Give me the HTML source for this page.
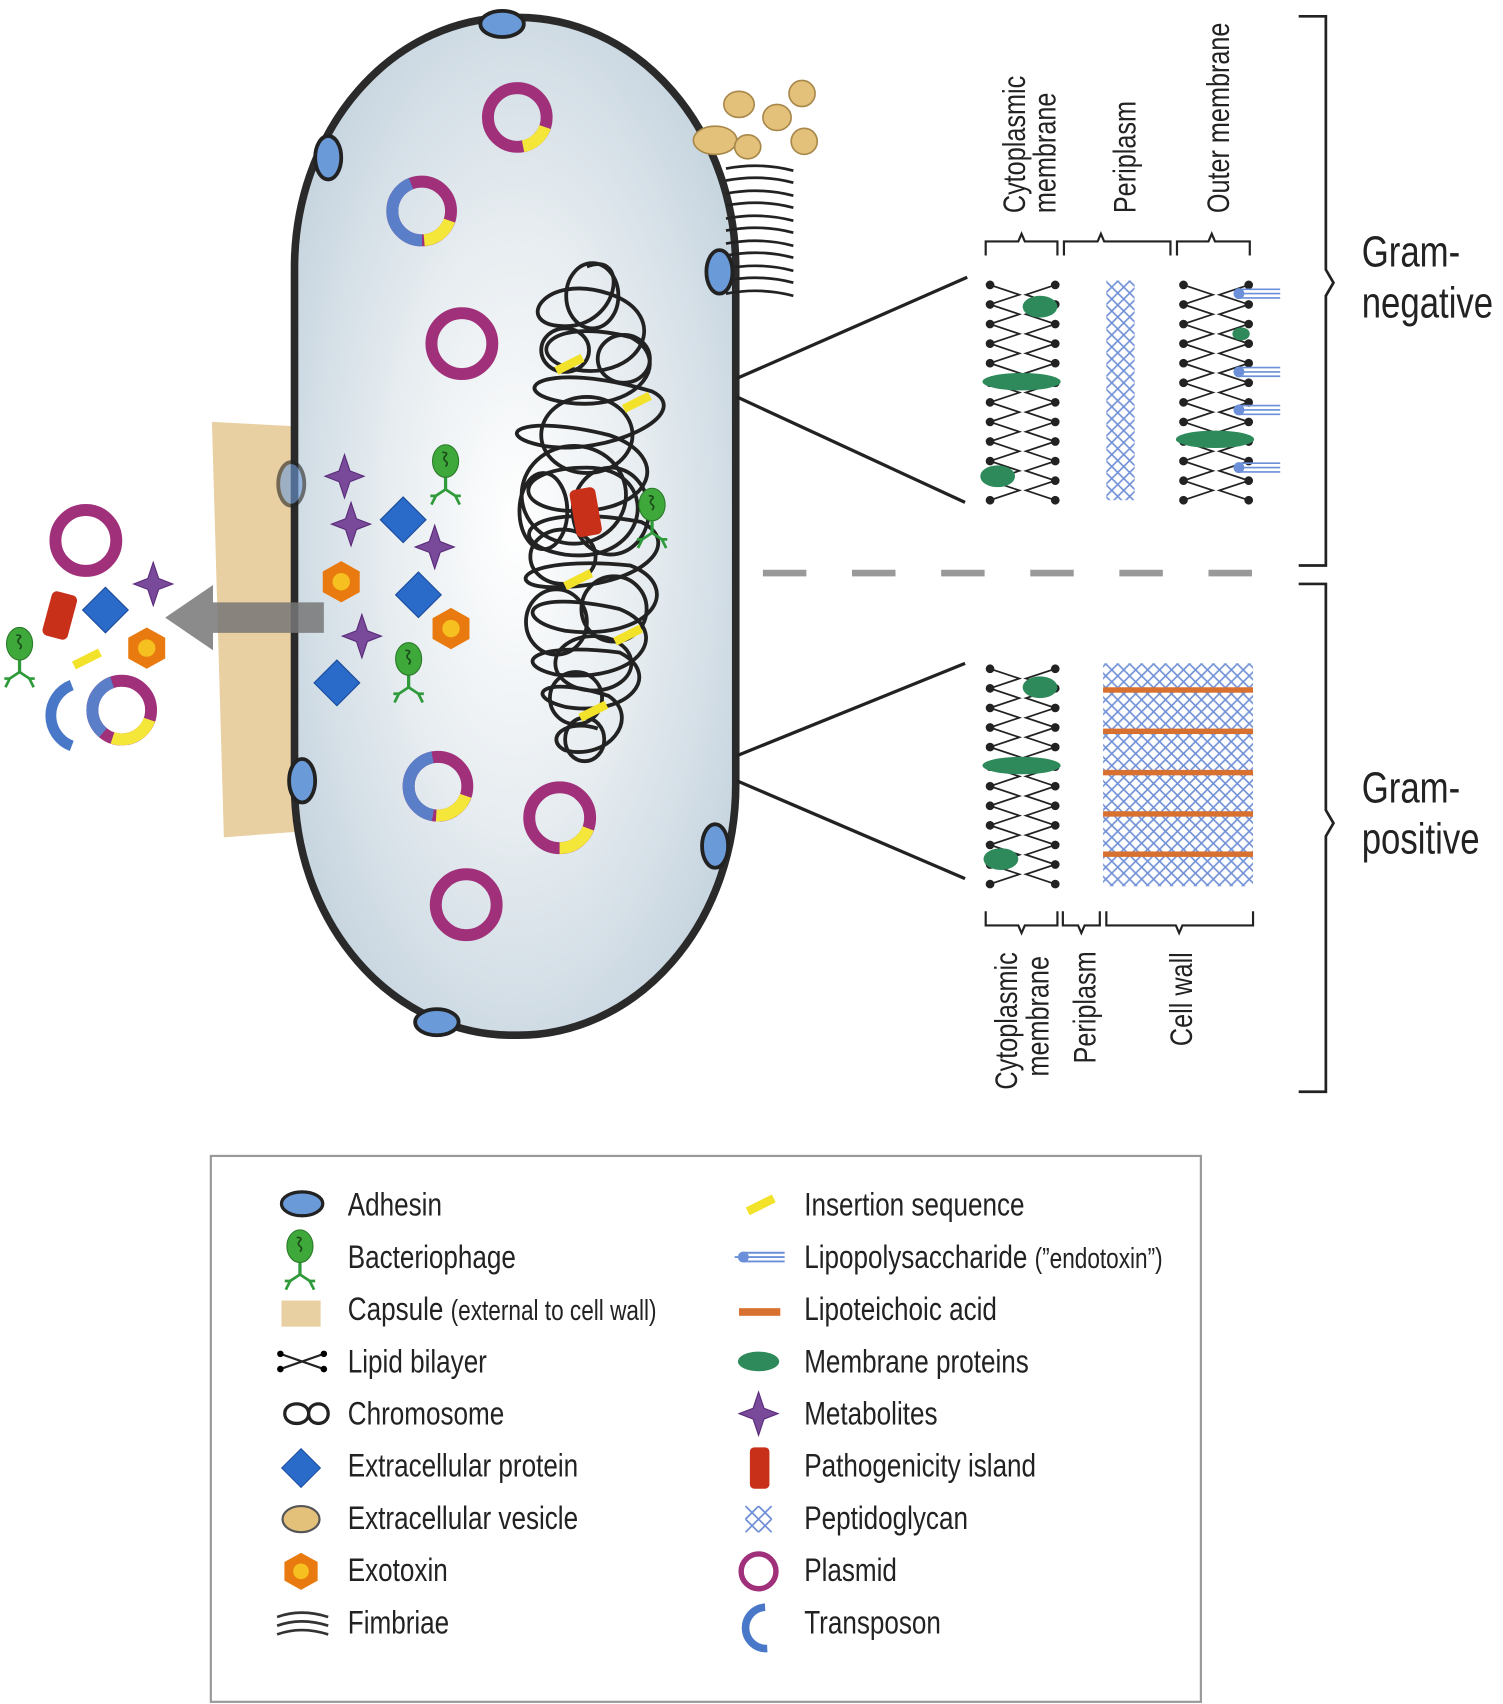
<!DOCTYPE html>
<html><head><meta charset="utf-8"><style>
html,body{margin:0;padding:0;background:#fff}
svg{display:block}
text{font-family:"Liberation Sans",sans-serif;fill:#222}
</style></head><body>
<svg width="1503" height="1704" viewBox="0 0 1383 1567" preserveAspectRatio="none" xmlns="http://www.w3.org/2000/svg">
<defs>
<radialGradient id="cg" cx="0.5" cy="0.5" r="0.6">
<stop offset="0" stop-color="#ffffff"/><stop offset="0.5" stop-color="#e6ecf0"/><stop offset="1" stop-color="#c4d3de"/>
</radialGradient>
<pattern id="pg" width="11" height="11" patternUnits="userSpaceOnUse">
<path d="M0 0L11 11M11 0L0 11" stroke="#6f8fd6" stroke-width="1.5"/>
</pattern>
<g id="phage">
<line x1="0" y1="10" x2="0" y2="26" stroke="#2e9a3a" stroke-width="3"/>
<path d="M0 26L-9 32L-13 40M0 26L9 32L13 40M-9 32L-14 32M9 32L14 32" stroke="#2e9a3a" stroke-width="2.5" fill="none"/>
<ellipse cx="0" cy="0" rx="12" ry="15" fill="#3ea83a" stroke="#2a7a2a" stroke-width="1"/>
<path d="M-3 -8q6 0 3 3t0 5t0 5" stroke="#1a4a1a" stroke-width="1.5" fill="none"/>
</g>
<g id="star"><path d="M0 -20L5 -5L18 0L5 5L0 20L-5 5L-18 0L-5 -5Z" fill="#7a4a9a" stroke="#5a2a7a" stroke-width="1"/></g>
<g id="dia"><path d="M0 -21L21 0L0 21L-21 0Z" fill="#2a6ac8" stroke="#1a4a9a" stroke-width="1"/></g>
<g id="hex"><path d="M0 -19L17 -9.5L17 9.5L0 19L-17 9.5L-17 -9.5Z" fill="#e87a10"/><circle r="8" fill="#f5c020"/></g>
<g id="is"><path d="M-12 4Q0 -2 12 -8" stroke="#f2e22a" stroke-width="8" fill="none"/></g>
<g id="adh"><ellipse rx="20" ry="12" fill="#6b9ad8" stroke="#222" stroke-width="3.5"/></g>
<g id="bl">
<polyline fill="none" stroke="#222" stroke-width="1.6" points="0,0 27,9 0,18 27,27 0,36 27,45 0,54 27,63 0,72 27,81 0,90 27,99 0,108 27,117 0,126 27,135 0,144 27,153 0,162 27,171 0,180 27,189 0,198"/>
<polyline fill="none" stroke="#222" stroke-width="1.6" points="60,0 33,9 60,18 33,27 60,36 33,45 60,54 33,63 60,72 33,81 60,90 33,99 60,108 33,117 60,126 33,135 60,144 33,153 60,162 33,171 60,180 33,189 60,198"/>
<line x1="0" y1="0" x2="0" y2="200" stroke="#222" stroke-width="8" stroke-linecap="round" stroke-dasharray="0 18"/>
<line x1="60" y1="0" x2="60" y2="200" stroke="#222" stroke-width="8" stroke-linecap="round" stroke-dasharray="0 18"/>
</g>
<g id="lps"><circle cx="0" cy="0" r="5" fill="#6b8fd8"/><path d="M0 -4H38M0 0H38M0 4H38" stroke="#6b8fd8" stroke-width="1.5"/></g>
</defs>

<!-- capsule -->
<path d="M195 388L272 392L272 765L206 770Z" fill="#e9d0a2"/>
<!-- cell -->
<rect x="271" y="16" width="406" height="936" rx="200" ry="230" fill="url(#cg)" stroke="#2a2a2a" stroke-width="7"/>
<!-- arrow -->
<path d="M298 554L196 554L196 538L152 568L196 598L196 582L298 582Z" fill="#777" opacity="0.85"/>

<!-- fimbriae -->
<g stroke="#222" stroke-width="2.5" fill="none">
<path d="M668 155Q700 149 730 157"/><path d="M668 166Q700 160 730 168"/><path d="M668 178Q700 172 730 180"/>
<path d="M668 189Q700 183 730 191"/><path d="M668 201Q700 195 730 203"/><path d="M668 212Q700 206 730 214"/>
<path d="M668 224Q700 218 730 226"/><path d="M668 235Q700 229 730 237"/><path d="M668 247Q700 241 730 249"/>
<path d="M668 258Q700 252 730 260"/><path d="M668 270Q700 264 730 272"/>
</g>
<!-- vesicles -->
<g fill="#e3c17a" stroke="#a8884a" stroke-width="1.5">
<ellipse cx="658" cy="129" rx="20" ry="13"/><ellipse cx="680" cy="96" rx="14" ry="12"/><ellipse cx="715" cy="108" rx="13" ry="12"/>
<ellipse cx="738" cy="86" rx="12" ry="12"/><ellipse cx="688" cy="135" rx="12" ry="11"/><ellipse cx="740" cy="130" rx="12" ry="12"/>
</g>

<!-- adhesins -->
<use href="#adh" x="462" y="22"/>
<g transform="translate(302,145) rotate(90)"><use href="#adh"/></g>
<g transform="translate(662,250) rotate(90)"><use href="#adh"/></g>
<g transform="translate(268,445) rotate(90)"><use href="#adh" opacity="0.6"/></g>
<g transform="translate(278,718) rotate(90)"><use href="#adh"/></g>
<g transform="translate(658,778) rotate(90)"><use href="#adh"/></g>
<use href="#adh" x="402" y="940"/>

<!-- chromosome -->
<g stroke="#222" stroke-width="3.5" fill="none">
<path d="M540 245C580 230 570 300 520 300C470 300 500 250 560 270C620 290 590 350 530 340C480 330 500 290 580 310C620 330 590 380 520 370C460 360 500 330 600 360C640 380 560 420 500 410C450 400 480 380 560 400C620 420 600 470 530 470C470 470 470 430 540 430C610 430 600 520 520 510C460 500 480 460 590 480C630 500 590 540 510 540C460 540 480 510 580 520C630 540 600 590 520 580C470 570 480 540 570 560C620 580 590 630 510 620C470 610 490 590 570 600C610 620 580 660 520 650C480 640 500 620 560 640C590 660 560 700 520 690C500 680 520 660 550 670"/>
<ellipse cx="545" cy="272" rx="24" ry="30"/><ellipse cx="520" cy="322" rx="22" ry="20"/><ellipse cx="574" cy="330" rx="24" ry="22"/>
<ellipse cx="540" cy="400" rx="42" ry="35"/><ellipse cx="528" cy="455" rx="48" ry="45"/><ellipse cx="562" cy="470" rx="35" ry="40"/>
<ellipse cx="518" cy="512" rx="30" ry="25"/><ellipse cx="565" cy="560" rx="30" ry="30"/><ellipse cx="512" cy="572" rx="28" ry="30"/>
<ellipse cx="546" cy="610" rx="35" ry="25"/><ellipse cx="530" cy="642" rx="24" ry="24"/><ellipse cx="500" cy="470" rx="22" ry="35"/>
<ellipse cx="538" cy="680" rx="18" ry="20"/>
</g>
<rect x="527" y="449" width="24" height="44" rx="5" fill="#c8301a" transform="rotate(-10 539 471)"/>
<use href="#is" x="524" y="337"/><use href="#is" x="586" y="372"/><use href="#is" x="532" y="535"/>
<use href="#is" x="578" y="586"/><use href="#is" x="546" y="656"/>
<use href="#phage" x="600" y="464"/>

<!-- plasmids -->
<g fill="none" stroke-width="11">
<circle cx="476" cy="108" r="27" stroke="#a0307a"/>
<circle cx="476" cy="108" r="27" stroke="#f5e63a" stroke-dasharray="28 200" stroke-dashoffset="-9"/>
<circle cx="388" cy="194" r="27" stroke="#a0307a"/>
<circle cx="388" cy="194" r="27" stroke="#5a7fc8" stroke-dasharray="75 200" stroke-dashoffset="-42"/>
<circle cx="388" cy="194" r="27" stroke="#f5e63a" stroke-dasharray="31 200" stroke-dashoffset="-9"/>
<circle cx="425" cy="316" r="28" stroke="#a0307a"/>
<circle cx="79" cy="497" r="28" stroke="#a0307a"/>
<circle cx="403" cy="723" r="27" stroke="#a0307a"/>
<circle cx="403" cy="723" r="27" stroke="#5a7fc8" stroke-dasharray="75 200" stroke-dashoffset="-47"/>
<circle cx="403" cy="723" r="27" stroke="#f5e63a" stroke-dasharray="35 200" stroke-dashoffset="-9"/>
<circle cx="515" cy="752" r="28" stroke="#a0307a"/>
<circle cx="515" cy="752" r="28" stroke="#f5e63a" stroke-dasharray="34 200" stroke-dashoffset="-10"/>
<circle cx="429" cy="832" r="28" stroke="#a0307a"/>
<circle cx="112" cy="653" r="27" stroke="#a0307a"/>
<circle cx="112" cy="653" r="27" stroke="#5a7fc8" stroke-dasharray="57 200" stroke-dashoffset="-61"/>
<circle cx="112" cy="653" r="27" stroke="#f5e63a" stroke-dasharray="42 200" stroke-dashoffset="-9"/>
</g>

<!-- inside stuff -->
<use href="#phage" x="410" y="424"/><use href="#phage" x="376" y="606"/>
<use href="#star" x="317" y="438"/><use href="#star" x="323" y="482"/><use href="#star" x="400" y="503"/><use href="#star" x="333" y="585"/>
<use href="#dia" x="371" y="478"/><use href="#dia" x="385" y="547"/><use href="#dia" x="310" y="628"/>
<use href="#hex" x="314" y="535"/><use href="#hex" x="415" y="578"/>
<!-- outside -->
<use href="#star" x="141" y="537"/><use href="#dia" x="97" y="561"/><use href="#hex" x="135" y="596"/>
<rect x="43" y="545" width="24" height="42" rx="5" fill="#c8301a" transform="rotate(15 55 566)"/>
<use href="#phage" x="18" y="592"/><use href="#is" x="80" y="608"/>
<path d="M66 630A30 30 0 0 0 66 686" stroke="#4a78c8" stroke-width="10" fill="none"/>

<!-- connector lines -->
<g stroke="#222" stroke-width="3">
<line x1="678" y1="348" x2="890" y2="255"/><line x1="678" y1="365" x2="888" y2="462"/>
<line x1="678" y1="695" x2="888" y2="610"/><line x1="678" y1="718" x2="888" y2="808"/>
</g>
<use href="#bl" x="911" y="262"/>
<use href="#bl" x="1089" y="262"/>
<use href="#bl" x="911" y="615"/>
<g fill="#2e8a5a">
<ellipse cx="957" cy="282" rx="16" ry="10"/><ellipse cx="940" cy="351" rx="36" ry="8"/><ellipse cx="918" cy="438" rx="16" ry="10"/>
<ellipse cx="1118" cy="404" rx="36" ry="8"/><ellipse cx="1142" cy="307" rx="8" ry="6"/>
<ellipse cx="957" cy="632" rx="16" ry="10"/><ellipse cx="940" cy="704" rx="36" ry="8"/><ellipse cx="921" cy="790" rx="16" ry="10"/>
</g>
<use href="#lps" x="1140" y="270"/><use href="#lps" x="1140" y="342"/><use href="#lps" x="1140" y="377"/><use href="#lps" x="1140" y="430"/>
<rect x="1018" y="258" width="26" height="202" fill="url(#pg)"/>
<rect x="1015" y="610" width="138" height="205" fill="url(#pg)"/>
<g fill="#d87030"><rect x="1015" y="632" width="138" height="5"/><rect x="1015" y="670" width="138" height="5"/><rect x="1015" y="708" width="138" height="5"/><rect x="1015" y="746" width="138" height="5"/><rect x="1015" y="783" width="138" height="5"/></g>
<line x1="702" y1="527" x2="1160" y2="527" stroke="#999" stroke-width="6" stroke-dasharray="40 42"/>

<!-- small brackets -->
<g stroke="#222" stroke-width="2" fill="none">
<path d="M907 235V222H937L940 215L943 222H973V235"/>
<path d="M979 235V222H1010L1013 215L1016 222H1077V235"/>
<path d="M1083 235V222H1112L1115 215L1118 222H1150V235"/>
<path d="M907 838V851H937L940 858L943 851H973V838"/>
<path d="M978 838V851H992L995 858L998 851H1012V838"/>
<path d="M1018 838V851H1082L1085 858L1088 851H1153V838"/>
<path d="M1195 15H1220V248L1227 260L1220 272V520H1195" stroke-width="2.5"/>
<path d="M1195 537H1220V745L1227 757L1220 769V1004H1195" stroke-width="2.5"/>
</g>
<g font-size="29">
<text transform="translate(943,196) rotate(-90) scale(0.8,1)">Cytoplasmic</text>
<text transform="translate(971,196) rotate(-90) scale(0.8,1)">membrane</text>
<text transform="translate(1045,196) rotate(-90) scale(0.8,1)">Periplasm</text>
<text transform="translate(1131,196) rotate(-90) scale(0.8,1)">Outer membrane</text>
<text transform="translate(936,1002) rotate(-90) scale(0.8,1)">Cytoplasmic</text>
<text transform="translate(965,990) rotate(-90) scale(0.8,1)">membrane</text>
<text transform="translate(1008,978) rotate(-90) scale(0.8,1)">Periplasm</text>
<text transform="translate(1097,962) rotate(-90) scale(0.8,1)">Cell wall</text>
</g>
<g font-size="40" transform="translate(1253,0) scale(0.8,1)">
<text x="0" y="245">Gram-</text><text x="0" y="292">negative</text>
<text x="0" y="738">Gram-</text><text x="0" y="785">positive</text>
</g>

<!-- legend -->
<rect x="194" y="1063" width="911" height="502" fill="#fff" stroke="#999" stroke-width="2"/>
<g font-size="30" transform="translate(320,0) scale(0.8,1)">
<text x="0" y="1118">Adhesin</text>
<text x="0" y="1166">Bacteriophage</text>
<text x="0" y="1214">Capsule <tspan font-size="26">(external to cell wall)</tspan></text>
<text x="0" y="1262">Lipid bilayer</text>
<text x="0" y="1310">Chromosome</text>
<text x="0" y="1358">Extracellular protein</text>
<text x="0" y="1406">Extracellular vesicle</text>
<text x="0" y="1454">Exotoxin</text>
<text x="0" y="1502">Fimbriae</text>
</g>
<g font-size="30" transform="translate(740,0) scale(0.8,1)">
<text x="0" y="1118">Insertion sequence</text>
<text x="0" y="1166">Lipopolysaccharide <tspan font-size="26">(”endotoxin”)</tspan></text>
<text x="0" y="1214">Lipoteichoic acid</text>
<text x="0" y="1262">Membrane proteins</text>
<text x="0" y="1310">Metabolites</text>
<text x="0" y="1358">Pathogenicity island</text>
<text x="0" y="1406">Peptidoglycan</text>
<text x="0" y="1454">Plasmid</text>
<text x="0" y="1502">Transposon</text>
</g>
<ellipse cx="278" cy="1107" rx="19" ry="11" fill="#6b9ad8" stroke="#222" stroke-width="3"/>
<use href="#phage" x="276" y="1146"/>
<rect x="259" y="1196" width="36" height="24" fill="#e9d0a2"/>
<path d="M258 1245L298 1259M258 1259L298 1245" stroke="#222" stroke-width="2"/><circle cx="258" cy="1245" r="3"/><circle cx="258" cy="1259" r="3"/><circle cx="298" cy="1245" r="3"/><circle cx="298" cy="1259" r="3"/>
<path d="M262 1300c0-12 22-12 22 0s18 12 18 0s-18-12-18 0s-22 12-22 0" stroke="#222" stroke-width="3" fill="none"/>
<use href="#dia" transform="translate(277,1350) scale(0.85)"/>
<ellipse cx="277" cy="1397" rx="17" ry="12" fill="#e3c17a" stroke="#555" stroke-width="2"/>
<use href="#hex" transform="translate(277,1445) scale(0.9)"/>
<path d="M255 1487q22-8 47 0M255 1495q22-8 47 0M255 1503q22-8 47 0" stroke="#333" stroke-width="2.5" fill="none"/>
<use href="#is" x="700" y="1110"/>
<g stroke="#6b8fd8" stroke-width="1.8"><line x1="676" y1="1156" x2="722" y2="1156"/><line x1="684" y1="1152" x2="722" y2="1152"/><line x1="684" y1="1160" x2="722" y2="1160"/></g><circle cx="684" cy="1156" r="5" fill="#6b8fd8"/>
<rect x="680" y="1203" width="38" height="7" fill="#d87030"/>
<ellipse cx="698" cy="1252" rx="19" ry="9" fill="#2e8a5a"/>
<use href="#star" x="698" y="1300"/>
<rect x="690" y="1331" width="18" height="38" rx="4" fill="#c8301a"/>
<path d="M686 1385L710 1409M698 1385L710 1397M686 1397L698 1409M710 1385L686 1409M698 1385L686 1397M710 1397L698 1409" stroke="#6f8fd6" stroke-width="1.6"/>
<circle cx="698" cy="1445" r="16" fill="none" stroke="#a0307a" stroke-width="5"/>
<path d="M704 1478A18 18 0 0 0 706 1516" stroke="#4a78c8" stroke-width="7" fill="none"/>
</svg>
</body></html>
